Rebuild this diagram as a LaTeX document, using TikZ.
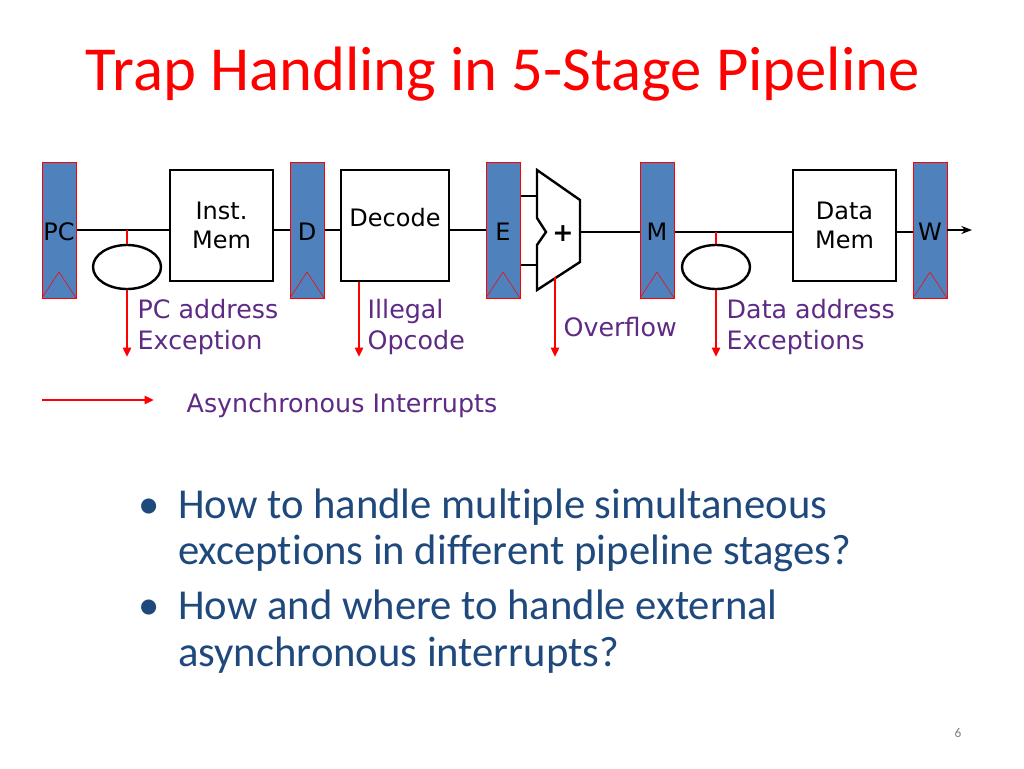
\documentclass[tikz,border=0pt]{standalone}
\usepackage{fontspec}
\setmainfont{DejaVu Sans}
\newfontfamily\calib[RawFeature={-liga}]{Carlito}
\usetikzlibrary{arrows.meta,shapes.geometric}
\definecolor{regblue}{HTML}{4F81BD}
\definecolor{lblpurple}{HTML}{5E2A84}
\definecolor{bulblue}{HTML}{1F497D}
\begin{document}
\begin{tikzpicture}[x=0.75pt,y=-0.75pt,
  reg/.style={draw=red,fill=regblue,minimum width=25.5pt,minimum height=102pt,inner sep=0pt},
  unit/.style={draw=black,line width=1.8pt,fill=white,minimum width=77pt,minimum height=83pt,inner sep=0pt,align=center,font=\fontsize{18}{22}\selectfont},
  wire/.style={line width=1.8pt},
  exc/.style={red,line width=1.8pt,-{Triangle[length=7pt,width=6pt]}},
  lbl/.style={text=lblpurple,font=\fontsize{19}{23}\selectfont,align=left,anchor=west},
  rl/.style={font=\fontsize{18}{20}\selectfont,inner sep=0pt},
  bul/.style={text=bulblue,font=\calib\fontsize{32}{35}\selectfont,anchor=base west,inner sep=0pt}]
\useasboundingbox (0,0) rectangle (1024,768);
\node[text=red,font=\calib\fontsize{47}{52}\selectfont] (title) at (503,74) {Trap Handling in 5-Stage Pipeline};
% wires
\draw[wire] (76,230) -- (290,230);
\draw[wire] (324,230) -- (486,230);
\draw[wire] (520,196) -- (537,196);
\draw[wire] (520,265) -- (537,265);
\draw[wire] (580,232) -- (913,232);
% registers
\foreach \n/\x/\t in {pc/59/PC,d/307/D,e/503/E,m/657/M,w/930/W}{
  \node[reg] (\n) at (\x,230) {};
  \draw[red] (\x-17,298) -- (\x,272) -- (\x+17,298);
  \node[rl] (\n t) at (\x,232) {\t};
}
\node[unit] (imem) at (221.5,225.5) {Inst.\\Mem};
\node[unit,minimum width=81pt,text depth=12pt] (dec) at (395,225.5) {Decode};
\node[unit] (dmem) at (844.5,225.5) {Data\\Mem};
% ALU
\draw[line width=1.8pt,fill=white] (537,170) -- (580,200) -- (580,262) -- (537,290) -- (537,245) -- (546,232) -- (537,218) -- cycle;
\node[font=\bfseries\fontsize{19}{20}\selectfont] (plus) at (563,234) {+};
\coordinate (wout) at (972,230);
\draw[-{Stealth[length=8pt]},line width=1.2pt] (w.east) -- (wout);
% ellipses
\node[draw,line width=1.8pt,ellipse,minimum width=51pt,minimum height=33pt] (e1) at (127,267) {};
\node[draw,line width=1.8pt,ellipse,minimum width=51pt,minimum height=33pt] (e2) at (716,267) {};
\draw[red,line width=1.8pt] (127,230) -- (e1.north);
\draw[red,line width=1.8pt] (716,232) -- (e2.north);
\draw[exc] (e1.south) -- (127,357);
\draw[exc] (e2.south) -- (716,357);
\draw[exc] (359,282) -- (359,357);
\draw[exc] (555,277) -- (555,357);
\node[lbl] (l1) at (133,327) {PC address\\Exception};
\node[lbl] (l2) at (363,327) {Illegal\\Opcode};
\node[lbl] (l3) at (559,327) {Overflow};
\node[lbl] (l4) at (722,327) {Data address\\Exceptions};
\coordinate (a0) at (42,400);
\coordinate (a1) at (154,400);
\draw[exc] (a0) -- (a1);
\node[lbl] (async) at (182,406) {Asynchronous Interrupts};
% bullets
\node[bul] (bd1) at (138,518) {\textbullet};
\node[bul] (b1a) at (178,518) {How to handle multiple simultaneous};
\node[bul] (b1b) at (178,564) {exceptions in different pipeline stages?};
\node[bul] (bd2) at (138,619) {\textbullet};
\node[bul] (b2a) at (178,619) {How and where to handle external};
\node[bul] (b2b) at (178,666) {asynchronous interrupts?};
\node[text=gray,font=\calib\fontsize{10}{12}\selectfont] (pg) at (958,733) {6};
\end{tikzpicture}
\end{document}
